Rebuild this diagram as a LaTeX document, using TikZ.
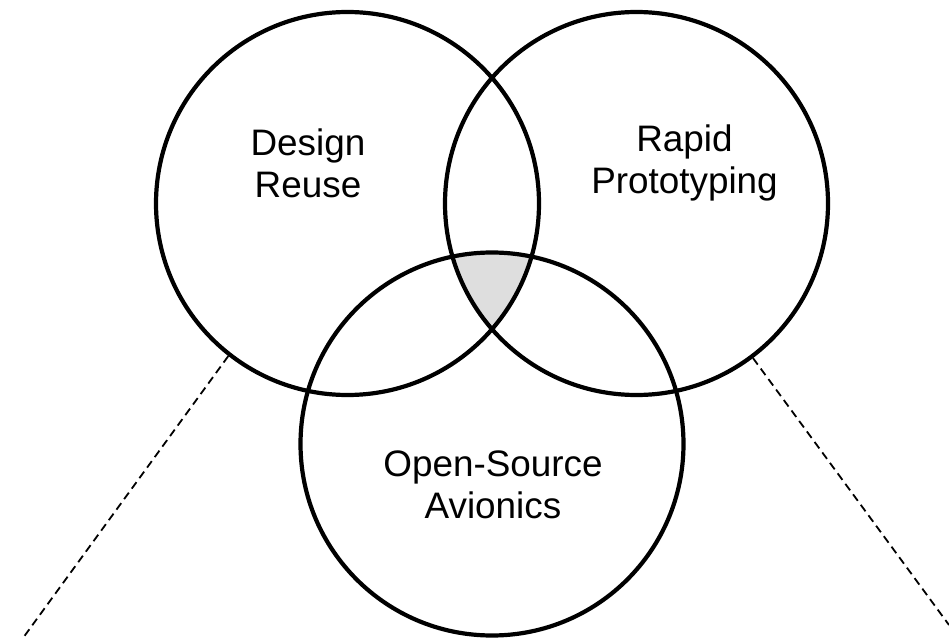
\documentclass[tikz,border=0pt]{standalone}
\usepackage{fontspec}
\setmainfont{Liberation Sans}
\usetikzlibrary{positioning}

\begin{document}
\begin{tikzpicture}[x=1bp,y=-1bp,
    set/.style={circle, draw, line width=4.2bp, minimum size=383bp, inner sep=0pt},
    setlabel/.style={font=\fontsize{37}{42}\selectfont, align=center, inner sep=0pt},
    zoomline/.style={line width=1.8bp, dash pattern=on 8bp off 5bp}]
    \useasboundingbox (0,0) rectangle (949,639);
    \coordinate (cdr) at (347.5,203.5);
    \coordinate (crp) at (636.5,203.5);
    \coordinate (cos) at (492,444);
    % common part of the three sets
    \begin{scope}
        \clip (cdr) circle[radius=191.5];
        \clip (crp) circle[radius=191.5];
        \fill[black!13] (cos) circle[radius=191.5];
    \end{scope}
    \node[set] (reuse) at (cdr) {};
    \node[set] (rapid) at (crp) {};
    \node[set] (avio) at (cos) {};
    \node[setlabel] (lreuse) at (308,163) {Design\\Reuse};
    \node[setlabel] (lrapid) at (684.5,163) {Rapid\\Prototyping};
    \node[setlabel] (lavio) at (493,485) {Open-Source\\Avionics};
    \coordinate (endl) at (23,638);
    \coordinate (endr) at (949,625);
    \draw[zoomline] (reuse.232.7) -- (endl);
    \draw[zoomline] (rapid.307.3) -- (endr);
\end{tikzpicture}
\end{document}
